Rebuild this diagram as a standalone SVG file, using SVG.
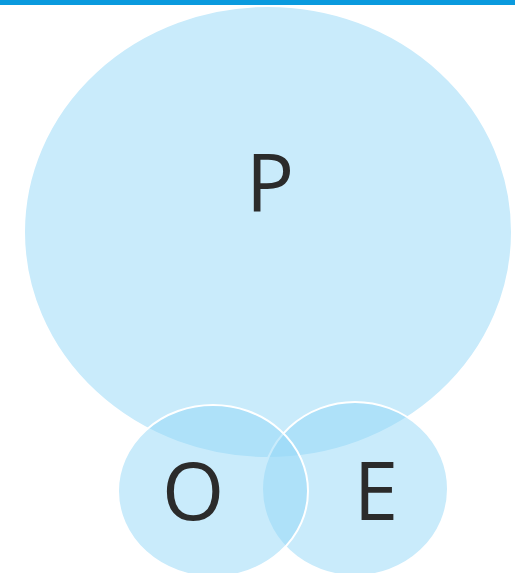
<svg xmlns="http://www.w3.org/2000/svg" width="515" height="573" viewBox="0 0 515 573">
  <style>
    .set { fill: #93d7f7; fill-opacity: 0.5; stroke: #ffffff; stroke-width: 2; }
    .lbl { font-family: "Open Sans", "Liberation Sans", sans-serif; font-size: 80px; fill: #2b2b2b; text-anchor: middle; }
  </style>
  <rect x="0" y="0" width="515" height="5" fill="#0a9ade"/>
  <g id="P">
    <ellipse class="set" cx="268" cy="232" rx="244" ry="226"/>
    <text class="lbl" x="270" y="212">P</text>
  </g>
  <g id="E">
    <ellipse class="set" cx="355" cy="489" rx="93" ry="87"/>
    <text class="lbl" x="376" y="520">E</text>
  </g>
  <g id="O">
    <ellipse class="set" cx="213" cy="491" rx="95" ry="86"/>
    <text class="lbl" x="193" y="520">O</text>
  </g>
  <g id="connectors"/>
</svg>
